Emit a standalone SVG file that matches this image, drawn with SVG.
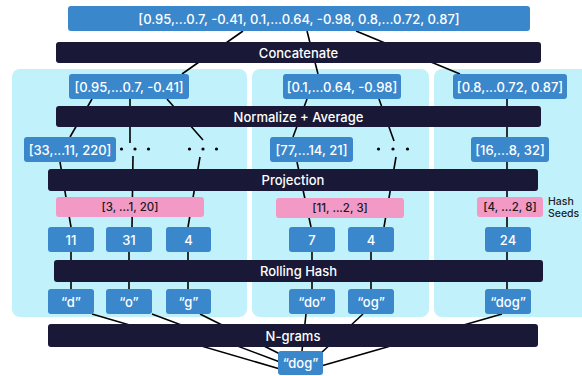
<svg xmlns="http://www.w3.org/2000/svg" width="582" height="376" viewBox="0 0 582 376">
<style>
.panel{fill:#c1f2fc}
.box{fill:#3a87cc}
.bar{fill:#191937}
.seed{fill:#f299c6}
.wt{fill:#ffffff;font-family:Inter,"Liberation Sans",sans-serif;font-size:13px;font-weight:500;text-anchor:middle;dominant-baseline:central}
.bt{fill:#ffffff;font-family:Inter,"Liberation Sans",sans-serif;font-size:13px;font-weight:500;text-anchor:middle;dominant-baseline:central}
.st{fill:#1a1a1a;font-family:Inter,"Liberation Sans",sans-serif;font-size:11.5px;font-weight:500;text-anchor:middle;dominant-baseline:central}
.lab{fill:#222222;font-family:Inter,"Liberation Sans",sans-serif;font-size:10.5px;font-weight:500}
.c line{stroke:#000;stroke-width:1.6}
.dot{fill:#000}
</style>
<rect class="panel" x="12" y="69" width="235" height="248" rx="8"/>
<rect class="panel" x="252" y="69" width="177" height="248" rx="8"/>
<rect class="panel" x="434" y="69" width="160" height="248" rx="8"/>
<g id="connectors" class="c">
<line x1="243" y1="31" x2="182" y2="74"/>
<line x1="307" y1="31" x2="318" y2="74"/>
<line x1="356" y1="31" x2="460" y2="74"/>
<line x1="92" y1="99" x2="70" y2="137"/>
<line x1="130" y1="99" x2="130" y2="143"/>
<line x1="167" y1="99" x2="203" y2="140"/>
<line x1="307" y1="99" x2="293" y2="137"/>
<line x1="379" y1="99" x2="394" y2="141"/>
<line x1="507" y1="99" x2="507" y2="227"/>
<line x1="60" y1="162" x2="71" y2="227"/>
<line x1="133" y1="156" x2="132" y2="227"/>
<line x1="200" y1="157" x2="188" y2="227"/>
<line x1="297" y1="162" x2="311" y2="227"/>
<line x1="396" y1="157" x2="384" y2="227"/>
<line x1="71" y1="252" x2="71" y2="289"/>
<line x1="129" y1="252" x2="129" y2="289"/>
<line x1="188" y1="252" x2="188" y2="289"/>
<line x1="312" y1="252" x2="312" y2="289"/>
<line x1="371" y1="252" x2="371" y2="289"/>
<line x1="507" y1="252" x2="507" y2="289"/>
<line x1="92" y1="314" x2="280" y2="369"/>
<line x1="152" y1="314" x2="280" y2="362"/>
<line x1="200" y1="314" x2="280" y2="354"/>
<line x1="306" y1="314" x2="302" y2="351"/>
<line x1="363" y1="314" x2="320" y2="354"/>
<line x1="502" y1="314" x2="321" y2="366"/>
</g>
<g id="n-top"><rect class="box" x="68" y="6" width="462" height="25" rx="3"/><text class="wt" x="299" y="18.5">[0.95,...0.7, -0.41, 0.1,...0.64, -0.98, 0.8,...0.72, 0.87]</text></g>
<g id="n-concat"><rect class="bar" x="56" y="42" width="485" height="21" rx="3"/><text class="bt" x="298.5" y="52.5">Concatenate</text></g>
<g id="n-p1"><rect class="box" x="69" y="74" width="120" height="25" rx="3"/><text class="wt" x="129" y="86.5">[0.95,...0.7, -0.41]</text></g>
<g id="n-p2"><rect class="box" x="283" y="74" width="118" height="25" rx="3"/><text class="wt" x="342" y="86.5">[0.1,...0.64, -0.98]</text></g>
<g id="n-p3"><rect class="box" x="453" y="74" width="114" height="25" rx="3"/><text class="wt" x="510" y="86.5">[0.8,...0.72, 0.87]</text></g>
<g id="n-normalize"><rect class="bar" x="56" y="106" width="485" height="21" rx="3"/><text class="bt" x="298.5" y="116.5">Normalize + Average</text></g>
<g id="n-v1"><rect class="box" x="24" y="137" width="92" height="25" rx="3"/><text class="wt" x="70" y="149.5">[33,...11, 220]</text></g>
<g id="n-dots1"><circle class="dot" cx="121.5" cy="149" r="1.6"/><circle class="dot" cx="135" cy="149" r="1.6"/><circle class="dot" cx="148.5" cy="149" r="1.6"/></g>
<g id="n-dots2"><circle class="dot" cx="189.5" cy="149" r="1.6"/><circle class="dot" cx="203" cy="149" r="1.6"/><circle class="dot" cx="216.5" cy="149" r="1.6"/></g>
<g id="n-v2"><rect class="box" x="270" y="137" width="83" height="25" rx="3"/><text class="wt" x="311.5" y="149.5">[77,...14, 21]</text></g>
<g id="n-dots3"><circle class="dot" cx="378.5" cy="149" r="1.6"/><circle class="dot" cx="393" cy="149" r="1.6"/><circle class="dot" cx="407.5" cy="149" r="1.6"/></g>
<g id="n-v3"><rect class="box" x="471" y="137" width="78" height="25" rx="3"/><text class="wt" x="510" y="149.5">[16,...8, 32]</text></g>
<g id="n-projection"><rect class="bar" x="48" y="169" width="490" height="22" rx="3"/><text class="bt" x="293" y="180">Projection</text></g>
<g id="n-s1"><rect class="seed" x="56" y="197" width="148" height="20" rx="3"/><text class="st" x="130" y="207">[3, ...1, 20]</text></g>
<g id="n-s2"><rect class="seed" x="276" y="198" width="128" height="20" rx="3"/><text class="st" x="340" y="208">[11, ...2, 3]</text></g>
<g id="n-s3"><rect class="seed" x="477" y="197" width="66" height="20" rx="3"/><text class="st" x="510" y="207">[4, ...2, 8]</text></g>
<g id="n-hashseeds"><text class="lab" x="548" y="205">Hash</text><text class="lab" x="548" y="217">Seeds</text></g>
<g id="n-h11"><rect class="box" x="48" y="227" width="46" height="25" rx="3"/><text class="wt" x="71" y="239.5">11</text></g>
<g id="n-h31"><rect class="box" x="106" y="227" width="46" height="25" rx="3"/><text class="wt" x="129" y="239.5">31</text></g>
<g id="n-h4a"><rect class="box" x="166" y="227" width="45" height="25" rx="3"/><text class="wt" x="188.5" y="239.5">4</text></g>
<g id="n-h7"><rect class="box" x="289" y="227" width="46" height="25" rx="3"/><text class="wt" x="312" y="239.5">7</text></g>
<g id="n-h4b"><rect class="box" x="348" y="227" width="46" height="25" rx="3"/><text class="wt" x="371" y="239.5">4</text></g>
<g id="n-h24"><rect class="box" x="485" y="227" width="46" height="25" rx="3"/><text class="wt" x="508" y="239.5">24</text></g>
<g id="n-rolling"><rect class="bar" x="54" y="260" width="489" height="22" rx="3"/><text class="bt" x="298.5" y="271">Rolling Hash</text></g>
<g id="n-d"><rect class="box" x="48" y="289" width="46" height="25" rx="3"/><text class="wt" x="71" y="301.5">“d”</text></g>
<g id="n-o"><rect class="box" x="106" y="289" width="46" height="25" rx="3"/><text class="wt" x="129" y="301.5">“o”</text></g>
<g id="n-g"><rect class="box" x="166" y="289" width="45" height="25" rx="3"/><text class="wt" x="188.5" y="301.5">“g”</text></g>
<g id="n-do"><rect class="box" x="289" y="289" width="46" height="25" rx="3"/><text class="wt" x="312" y="301.5">“do”</text></g>
<g id="n-og"><rect class="box" x="348" y="289" width="46" height="25" rx="3"/><text class="wt" x="371" y="301.5">“og”</text></g>
<g id="n-dog3"><rect class="box" x="485" y="289" width="46" height="25" rx="3"/><text class="wt" x="508" y="301.5">“dog”</text></g>
<g id="n-ngrams"><rect class="bar" x="48" y="324" width="490" height="23" rx="3"/><text class="bt" x="293" y="335.5">N-grams</text></g>
<g id="n-dog"><rect class="box" x="278" y="351" width="45" height="24" rx="3"/><text class="wt" x="300.5" y="363">“dog”</text></g>
</svg>
